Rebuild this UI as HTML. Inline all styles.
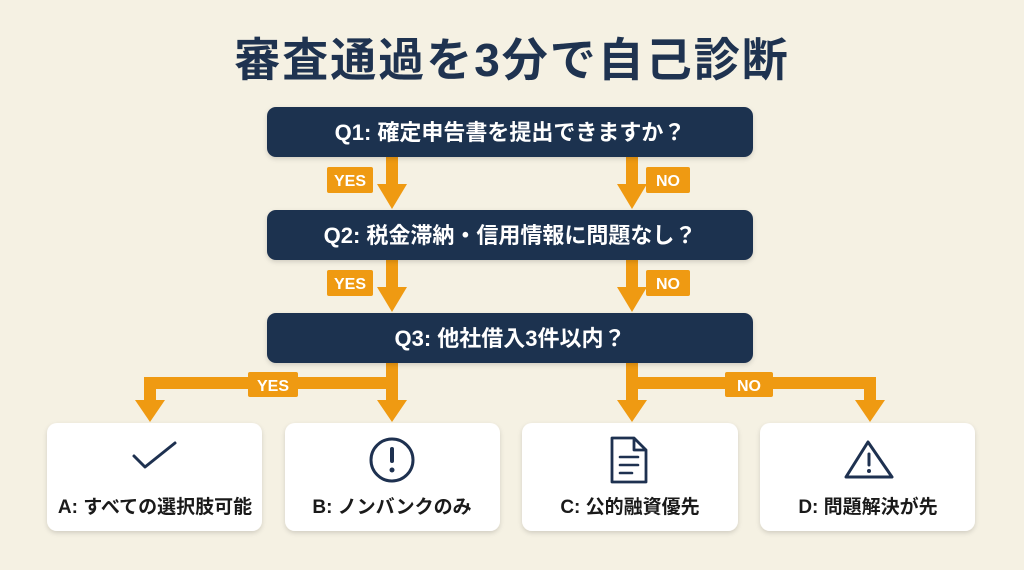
<!DOCTYPE html>
<html><head><meta charset="utf-8"><style>
html,body{margin:0;padding:0;background:#f5f1e3;}
svg{display:block;}
text{font-family:"Liberation Sans","Noto Sans CJK JP",sans-serif;font-weight:bold;}
</style></head><body>
<svg width="1024" height="570" viewBox="0 0 1024 570" xmlns="http://www.w3.org/2000/svg">
<defs>
<filter id="sh" x="-10%" y="-10%" width="120%" height="130%"><feDropShadow dx="0" dy="2" stdDeviation="2.5" flood-color="#000" flood-opacity="0.15"/></filter>
</defs>
<rect width="1024" height="570" fill="#f5f1e3"/>
<text x="512" y="76" text-anchor="middle" font-size="46" letter-spacing="2" fill="#1f3350">審査通過を3分で自己診断</text>

<g fill="#ef9a12">
<rect x="386" y="157" width="12" height="30"/><polygon points="377,184 407,184 392,209"/>
<rect x="626" y="157" width="12" height="30"/><polygon points="617,184 647,184 632,209"/>
<rect x="386" y="260" width="12" height="30"/><polygon points="377,287 407,287 392,312"/>
<rect x="626" y="260" width="12" height="30"/><polygon points="617,287 647,287 632,312"/>
<rect x="386" y="363" width="12" height="40"/>
<rect x="144" y="377" width="254" height="12"/>
<rect x="144" y="377" width="12" height="26"/>
<polygon points="135,400 165,400 150,422"/>
<polygon points="377,400 407,400 392,422"/>
<rect x="626" y="363" width="12" height="40"/>
<rect x="626" y="377" width="250" height="12"/>
<rect x="864" y="377" width="12" height="26"/>
<polygon points="617,400 647,400 632,422"/>
<polygon points="855,400 885,400 870,422"/>
<rect x="327" y="167" width="46" height="26" rx="2"/>
<rect x="646" y="167" width="44" height="26" rx="2"/>
<rect x="327" y="270" width="46" height="26" rx="2"/>
<rect x="646" y="270" width="44" height="26" rx="2"/>
<rect x="248" y="372" width="50" height="25" rx="2"/>
<rect x="725" y="372" width="48" height="25" rx="2"/>
</g>
<g fill="#fff" font-size="16" text-anchor="middle">
<text x="350" y="186">YES</text><text x="668" y="186">NO</text>
<text x="350" y="289">YES</text><text x="668" y="289">NO</text>
<text x="273" y="391">YES</text><text x="749" y="391">NO</text>
</g>

<g fill="#1e3150" filter="url(#sh)">
<rect x="267" y="107" width="486" height="50" rx="9"/>
<rect x="267" y="210" width="486" height="50" rx="9"/>
<rect x="267" y="313" width="486" height="50" rx="9"/>
</g>
<g fill="#fff" font-size="22" text-anchor="middle">
<text x="510" y="140">Q1: 確定申告書を提出できますか？</text>
<text x="510" y="243">Q2: 税金滞納・信用情報に問題なし？</text>
<text x="510" y="346">Q3: 他社借入3件以内？</text>
</g>

<g fill="#fff" filter="url(#sh)">
<rect x="47" y="423" width="215" height="108" rx="10"/>
<rect x="285" y="423" width="215" height="108" rx="10"/>
<rect x="522" y="423" width="216" height="108" rx="10"/>
<rect x="760" y="423" width="215" height="108" rx="10"/>
</g>
<g fill="none" stroke="#1e3150" stroke-width="3" stroke-linecap="round" stroke-linejoin="round">
<polyline points="134,456 145,467 175,443"/>
<circle cx="392" cy="460" r="21"/>
<path d="M612,438 h22 l12,12 v32 h-34 z M634,438 v12 h12" stroke-width="2.8"/>
<path d="M620,457 h18 M620,465 h18 M620,473 h12" stroke-width="2.6"/>
<path d="M868,442 L892,477 H846 Z"/>
<line x1="869" y1="454" x2="869" y2="465"/>
</g>
<g fill="#1e3150">
<rect x="390" y="447" width="4" height="16" rx="2"/>
<circle cx="392" cy="470" r="2.5"/>
<circle cx="869" cy="471" r="2"/>
</g>
<g fill="#1a1a1a" font-size="19" text-anchor="middle">
<text x="155" y="513">A: すべての選択肢可能</text>
<text x="392" y="513">B: ノンバンクのみ</text>
<text x="630" y="513">C: 公的融資優先</text>
<text x="868" y="513">D: 問題解決が先</text>
</g>
</svg>
</body></html>
